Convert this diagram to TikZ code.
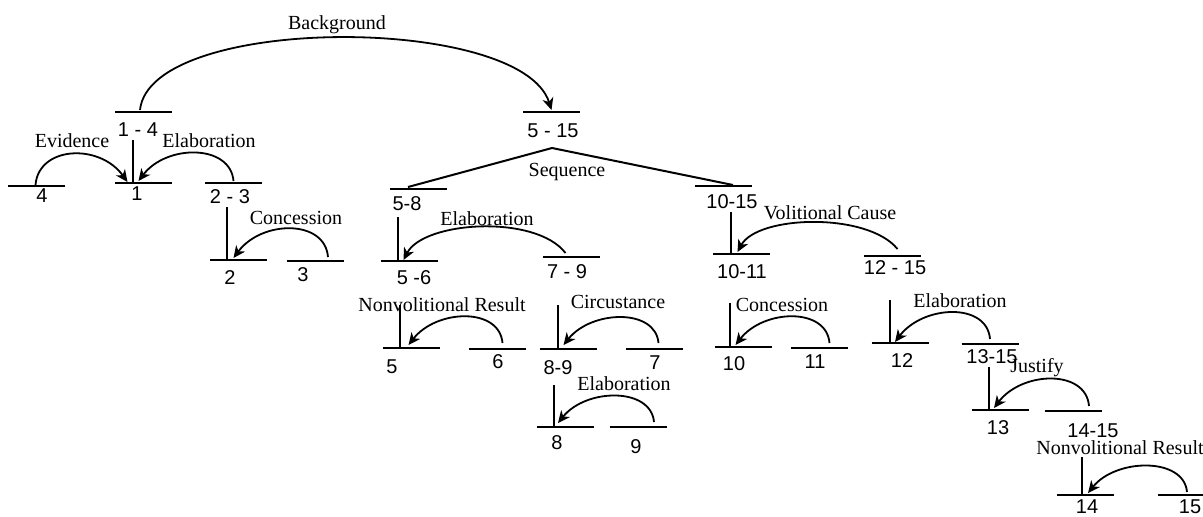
\documentclass[tikz,border=0pt]{standalone}
\usepackage{fontspec}
\setmainfont{Liberation Serif}
\newfontfamily\spanfont{Liberation Sans}
\usetikzlibrary{arrows.meta,calc}

\tikzset{
    bar/.style={line width=1pt},
    nuc/.style={line width=1pt},
    rel/.style={inner sep=0pt, font=\fontsize{10}{12}\selectfont},
    span/.style={inner sep=0pt, font=\spanfont\fontsize{10}{12}\selectfont},
    relarc/.style={line width=0.9pt, -{Stealth[length=6pt, width=5.5pt, inset=1.8pt]}},
}

\begin{document}
\begin{tikzpicture}[x=0.5pt, y=-0.5pt]
    \useasboundingbox (0,0) rectangle (1203,516);

    % Span bars: name / centre x / y (all 57 units wide)
    \foreach \n/\x/\y in {s1to4/143.5/112, s5to15/551.5/112,
        s4/36.5/186, s1/143.5/183, s2to3/233.5/183, s2/238.5/260, s3/315/261,
        s5to8/418.5/189, s10to15/723.5/186,
        s5to6/409.5/261, s7to9/571.5/257, s10to11/741.5/254, s12to15/892.5/256,
        s5/411.5/348, s6/497.5/349, s8to9/568.5/349, s7/654.5/349,
        s10/743.5/347, s11/819.5/348, s12/900/343, s13to15/990/344,
        s8/565/427, s9/638/427, s13/1000/410, s14to15/1073/411,
        s14/1085/495, s15/1186/495}{
        \coordinate (\n) at (\x,\y);
        \draw[bar] (\x-28.5,\y) -- (\x+28.5,\y);
    }

    % Span numbers under the bars
    \foreach \n/\x/\y/\t in {l1to4/138/130/1 - 4, l5to15/553/131/5 - 15,
        l4/42/196/4, l1/137/194/1, l2to3/230/197/2 - 3, l2/230/278/2, l3/303/275/3,
        l5to8/407/204/5-8, l10to15/732/202/10-15,
        l5to6/414/278/5 -6, l7to9/567/272/7 - 9, l10to11/742/272/10-11,
        l12to15/895/268/12 - 15,
        l5/392/367/5, l6/498/362/6, l8to9/558/368/8-9, l7/655/363/7,
        l10/734/364/10, l11/815/362/11, l12/902/361/12, l13to15/992/357/13-15,
        l8/557/443/8, l9/636/447/9, l13/998/428/13, l14to15/1093/431/14-15,
        l14/1087/507/14, l15/1190/507/15}{
        \node[span] (\n) at (\x,\y) {\t};
    }

    % Relation names
    \foreach \n/\x/\y/\t in {rBackground/337/25/Background,
        rEvidence/72/141/Evidence, rElabA/209/141/Elaboration,
        rConcA/296/218/Concession, rSequence/567/172/Sequence,
        rElabB/487/219/Elaboration, rVolCause/830/213/Volitional Cause,
        rNonvolA/442/305/Nonvolitional Result, rCircum/618/302/Circustance,
        rConcB/782/305/Concession, rElabC/960/301/Elaboration,
        rElabD/624/384/Elaboration, rJustify/1037/368/Justify,
        rNonvolB/1120/448/Nonvolitional Result}{
        \node[rel] (\n) at (\x,\y) {\t};
    }

    % Nucleus lines: child bar / x offset / height
    \foreach \n/\dx/\h in {s1/-10.5/43, s2/-11.5/53, s5to6/-11.5/44,
        s10to11/-10.5/42, s5/-11.5/43, s8to9/-10.5/44, s10/-13.5/44,
        s12/-10/43, s8/-11/42, s13/-11/43, s14/-3/38}{
        \draw[nuc] ($(\n)+(\dx,0)$) -- ++(0,-\h);
    }

    % Sequence (multinuclear)
    \coordinate (seq) at (552,148);
    \draw[nuc] ($(s5to8)+(-10.5,-2)$) -- (seq) -- ($(s10to15)+(9.5,-1)$);

    % Satellite -> nucleus arcs
    \foreach \sa/\ax/\ay/\nb/\bx/\by/\k/\ca/\cb in {
        s1to4/-3.5/-2/s5to15/0/-2/96/10/-30,
        s4/-1/-1/s1/-16/-1/39/3/-28,
        s2to3/0/-2/s1/-5/-2/37/-3/28,
        s3/13/-4/s2/-5/-2/38/-3/28,
        s7to9/-6/-4/s5to6/-6/-1/39/-30/20,
        s12to15/5/-7/s10to11/-4/-2/37/-30/20,
        s6/5/-6/s5/-3/-3/36/-3/28,
        s7/4/-6/s8to9/-5/-4/35/-3/28,
        s11/10/-5/s10/-8/-2/36/-3/28,
        s13to15/0/-5/s12/-5/-1/37/-3/28,
        s9/16/-5/s8/-7/-4/35/-3/28,
        s14to15/16/-5/s13/-6/-2/37/-3/28,
        s15/1/-3/s14/3/-2/35/-3/28}{
        \draw[relarc] ($(\sa)+(\ax,\ay)$) .. controls +(\ca,-\k) and +(\cb,-\k) .. ($(\nb)+(\bx,\by)$);
    }
\end{tikzpicture}
\end{document}
